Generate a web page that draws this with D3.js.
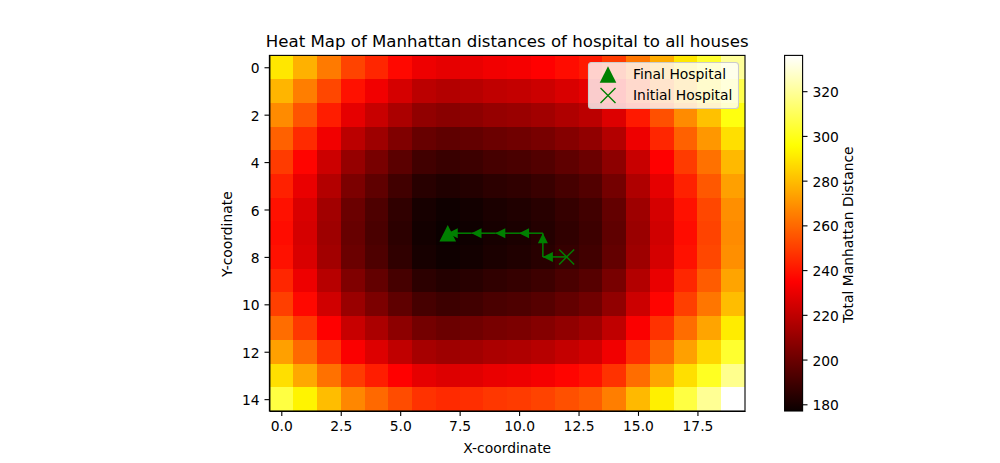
<!DOCTYPE html>
<html>
<head>
<meta charset="utf-8">
<script src="https://cdn.jsdelivr.net/npm/d3@7"></script>
<style>
  body { margin: 0; background: #fff; }
  text { font-family: "DejaVu Sans", sans-serif; fill: #000; }
</style>
</head>
<body>
<div id="chart"></div>
<script>
// total distance per cell (row = y, column = x)
var distances = [
  [290,277,264,251,244,237,231,229,230,232,233,235,238,241,249,263,276,290,303,320],
  [278,265,252,239,232,225,219,217,218,220,221,223,226,229,237,251,264,278,291,308],
  [268,255,242,229,222,215,209,207,208,210,211,213,216,219,227,241,254,268,281,298],
  [258,245,232,219,212,205,199,197,198,200,201,203,206,209,217,231,244,258,271,288],
  [249,236,223,210,203,196,190,188,189,191,192,194,197,200,208,222,235,249,262,279],
  [243,230,217,204,197,190,184,182,183,185,186,188,191,194,202,216,229,243,256,273],
  [239,226,213,200,193,186,180,178,179,181,182,184,187,190,198,212,225,239,252,269],
  [238,225,212,199,192,185,179,177,178,180,181,183,186,189,197,211,224,238,251,268],
  [239,226,213,200,193,186,180,178,179,181,182,184,187,190,198,212,225,239,252,269],
  [244,231,218,205,198,191,185,183,184,186,187,189,192,195,203,217,230,244,257,274],
  [250,237,224,211,204,197,191,189,190,192,193,195,198,201,209,223,236,250,263,280],
  [261,248,235,222,215,208,202,200,201,203,204,206,209,212,220,234,247,261,274,291],
  [273,260,247,234,227,220,214,212,213,215,216,218,221,224,232,246,259,273,286,303],
  [288,275,262,249,242,235,229,227,228,230,231,233,236,239,247,261,274,288,301,318],
  [306,293,280,267,260,253,247,245,246,248,249,251,254,257,265,279,292,306,319,336]
];
var pathX = [12, 11, 11, 10, 9, 8, 7];
var pathY = [8, 8, 7, 7, 7, 7, 7];
var xTicks = [0, 2.5, 5, 7.5, 10, 12.5, 15, 17.5];
var yTicks = [0, 2, 4, 6, 8, 10, 12, 14];
var barTicks = [180, 200, 220, 240, 260, 280, 300, 320];
var legendNames = ["Final Hospital", "Initial Hospital"];

var green = "#008000";
var left = 269.4, right = 745, top_ = 55.4, bottom = 411;
var barLeft = 784.6, barRight = 802.6;

var svg = d3.select("#chart").append("svg").attr("width", 1000).attr("height", 463);

var x = d3.scaleLinear().domain([-0.5, 19.5]).range([left, right]);
var y = d3.scaleLinear().domain([-0.5, 14.5]).range([top_, bottom]);
var vmin = d3.min(distances, function (r) { return d3.min(r); });
var vmax = d3.max(distances, function (r) { return d3.max(r); });
var v = d3.scaleLinear().domain([vmin, vmax]).range([bottom, top_]);

// matplotlib "hot" colormap
var red = d3.scaleLinear().domain([0, 0.365079]).range([0.0416, 1]).clamp(true);
var grn = d3.scaleLinear().domain([0.365079, 0.746032]).range([0, 1]).clamp(true);
var blu = d3.scaleLinear().domain([0.746032, 1]).range([0, 1]).clamp(true);
function hot(val) {
  var t = (val - vmin) / (vmax - vmin);
  return d3.rgb(red(t) * 255, grn(t) * 255, blu(t) * 255).toString();
}

// heat map cells
var rows = svg.append("g").selectAll("g").data(distances).enter().append("g");
rows.selectAll("rect")
  .data(function (d, i) { return d.map(function (val, j) { return { row: i, col: j, val: val }; }); })
  .enter().append("rect")
  .attr("x", function (d) { return x(d.col - 0.5); })
  .attr("y", function (d) { return y(d.row - 0.5); })
  .attr("width", x(1) - x(0) + 0.4)
  .attr("height", y(1) - y(0) + 0.4)
  .attr("fill", function (d) { return hot(d.val); })
  .attr("shape-rendering", "crispEdges");

// hospital path, a line and a head for every step
var plot = svg.append("g");
d3.range(pathX.length - 1).forEach(function (i) {
  var x0 = x(pathX[i]), y0 = y(pathY[i]), x1 = x(pathX[i + 1]), y1 = y(pathY[i + 1]);
  var angle = Math.atan2(y1 - y0, x1 - x0) * 180 / Math.PI;
  plot.append("line")
    .attr("x1", x0).attr("y1", y0).attr("x2", x1).attr("y2", y1)
    .attr("stroke", green).attr("stroke-width", 1.5);
  plot.append("path")
    .attr("d", "M0,0L-10,-5L-10,5Z")
    .attr("transform", "translate(" + x1 + "," + y1 + ") rotate(" + angle + ")")
    .attr("fill", green);
});

function triangle(g, cx, cy) {
  g.append("path").attr("d", "M0,-8.3L8.3,8.3L-8.3,8.3Z")
    .attr("transform", "translate(" + cx + "," + cy + ")").attr("fill", green);
}
function cross(g, cx, cy) {
  g.append("path").attr("d", "M-7.5,-7.5L7.5,7.5M-7.5,7.5L7.5,-7.5")
    .attr("transform", "translate(" + cx + "," + cy + ")")
    .attr("stroke", green).attr("stroke-width", 1.4).attr("fill", "none");
}
triangle(plot, x(pathX[pathX.length - 1]), y(pathY[pathY.length - 1]));
cross(plot, x(pathX[0]), y(pathY[0]));

// axes
function styleAxis(g) {
  g.selectAll("path").attr("stroke", "#000").attr("stroke-width", 1.1);
  g.selectAll("line").attr("stroke", "#000").attr("stroke-width", 1.1);
  g.selectAll("text").style("font-size", "13.89px").attr("font-family", null).attr("fill", "#000");
}
var xAxis = svg.append("g").attr("transform", "translate(0," + bottom + ")")
  .call(d3.axisBottom(x).tickValues(xTicks).tickFormat(d3.format(".1f")).tickSize(4.9).tickPadding(4.9).tickSizeOuter(0));
xAxis.call(styleAxis);
var yAxis = svg.append("g").attr("transform", "translate(" + left + ",0)")
  .call(d3.axisLeft(y).tickValues(yTicks).tickFormat(d3.format("d")).tickSize(4.9).tickPadding(4.9).tickSizeOuter(0));
yAxis.call(styleAxis);
yAxis.selectAll("text").attr("dy", "0.4em");

svg.append("rect").attr("x", left).attr("y", top_)
  .attr("width", right - left).attr("height", bottom - top_)
  .attr("fill", "none").attr("stroke", "#000").attr("stroke-width", 1.1);

svg.append("text").attr("x", (left + right) / 2).attr("y", 47)
  .attr("text-anchor", "middle").style("font-size", "16.6px")
  .text("Heat Map of Manhattan distances of hospital to all houses");
svg.append("text").attr("x", (left + right) / 2).attr("y", 453)
  .attr("text-anchor", "middle").style("font-size", "13.89px").text("X-coordinate");
svg.append("text").attr("transform", "translate(232," + ((top_ + bottom) / 2 + 1) + ") rotate(-90)")
  .attr("text-anchor", "middle").style("font-size", "13.89px").text("Y-coordinate");

// legend
var legend = svg.append("g");
legend.append("rect").attr("x", 588.5).attr("y", 62.5).attr("width", 150).attr("height", 46)
  .attr("rx", 3).attr("fill", "#fff").attr("fill-opacity", 0.8).attr("stroke", "#ccc").attr("stroke-width", 1.1);
triangle(legend, 608, 74.5);
cross(legend, 608, 95.5);
legend.selectAll("text").data(legendNames).enter().append("text")
  .attr("x", 633)
  .attr("y", function (d, i) { return 79 + i * 21; })
  .style("font-size", "13.89px")
  .text(function (d) { return d; });

// colour bar
var grad = svg.append("defs").append("linearGradient").attr("id", "hot")
  .attr("x1", 0).attr("y1", 1).attr("x2", 0).attr("y2", 0);
d3.range(0, 1.0001, 0.01).forEach(function (t) {
  grad.append("stop").attr("offset", t).attr("stop-color", hot(vmin + t * (vmax - vmin)));
});
svg.append("rect").attr("x", barLeft).attr("y", top_)
  .attr("width", barRight - barLeft).attr("height", bottom - top_)
  .attr("fill", "url(#hot)").attr("stroke", "#000").attr("stroke-width", 1.1);
var barAxis = svg.append("g").attr("transform", "translate(" + barRight + ",0)")
  .call(d3.axisRight(v).tickValues(barTicks).tickFormat(d3.format("d")).tickSize(4.9).tickPadding(4.9).tickSizeOuter(0));
barAxis.call(styleAxis);
barAxis.selectAll("text").attr("dy", "0.4em");
barAxis.select("path.domain").remove();
svg.append("text").attr("transform", "translate(853," + ((top_ + bottom) / 2 + 1.5) + ") rotate(-90)")
  .attr("text-anchor", "middle").style("font-size", "13.89px").text("Total Manhattan Distance");
</script>
</body>
</html>
